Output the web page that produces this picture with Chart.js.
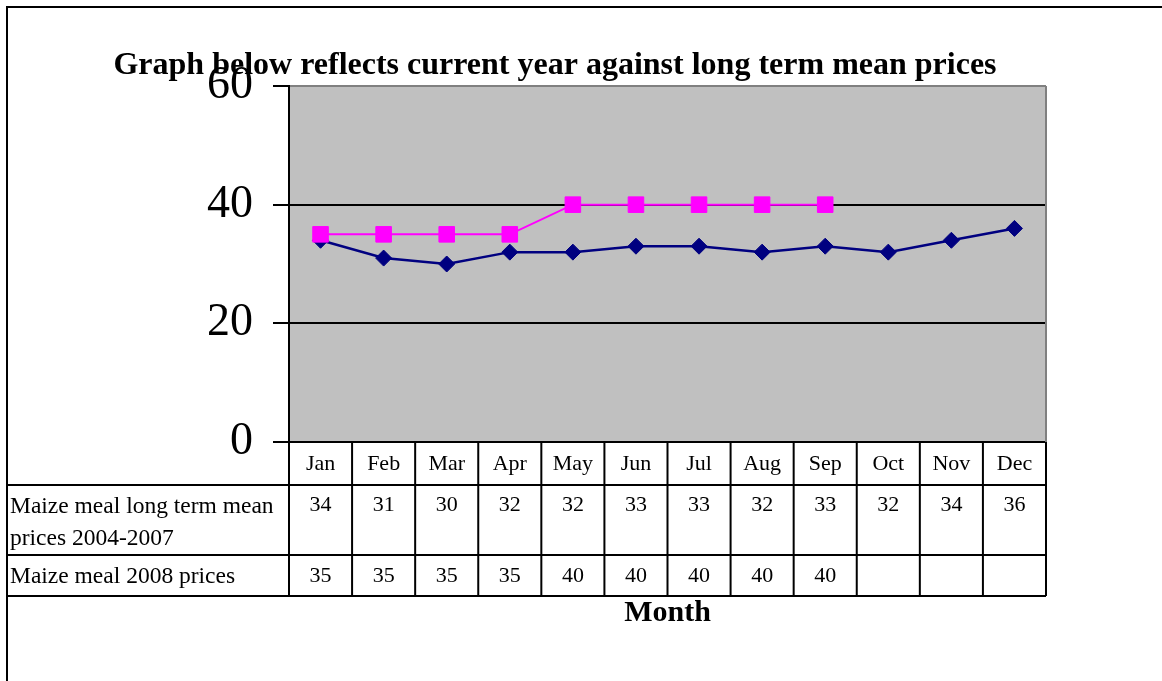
<!DOCTYPE html>
<html>
<head>
<meta charset="utf-8">
<script src="https://cdn.jsdelivr.net/npm/chart.js@4"></script>
<style>
  body { margin: 0; background: #fff; }
  canvas { display: block; }
</style>
</head>
<body>
<canvas id="chart" width="1162" height="681"></canvas>
<script>
// data
const months = ["Jan", "Feb", "Mar", "Apr", "May", "Jun", "Jul", "Aug", "Sep", "Oct", "Nov", "Dec"];
const longTermMean = [34, 31, 30, 32, 32, 33, 33, 32, 33, 32, 34, 36];
const prices2008 = [35, 35, 35, 35, 40, 40, 40, 40, 40, null, null, null];
const seriesNames = [["Maize meal long term mean", "prices 2004-2007"], ["Maize meal 2008 prices"]];
const yTicks = [0, 20, 40, 60];
const chartTitle = "Graph below reflects current year against long term mean prices";
const xTitle = "Month";

const serif = "'Liberation Serif', 'Times New Roman', serif";

/*
    Grey plot background, frame, data table and titles
*/
const excelLook = {
    id: "excelLook",
    beforeDraw(chart) {
        const c = chart.ctx, a = chart.chartArea;
        c.save();
        c.fillStyle = "#fff";
        c.fillRect(0, 0, chart.width, chart.height);
        c.fillStyle = "#C0C0C0";
        c.fillRect(a.left, a.top, a.right - a.left, a.bottom - a.top);
        c.restore();
    },
    afterDraw(chart) {
        const c = chart.ctx, a = chart.chartArea, x = chart.scales.x;
        const half = (x.getPixelForValue(1) - x.getPixelForValue(0)) / 2;
        const headTop = a.bottom, row1 = 485, row2 = 555, row3 = 596, frame = 7;

        c.save();
        // grey right border of the plot
        c.strokeStyle = "#808080";
        c.lineWidth = 2;
        c.beginPath();
        c.moveTo(a.right, a.top);
        c.lineTo(a.right, a.bottom);
        c.stroke();

        // outer frame (top + left only)
        c.strokeStyle = "#000";
        c.beginPath();
        c.moveTo(frame, chart.height);
        c.lineTo(frame, frame);
        c.lineTo(chart.width, frame);
        c.stroke();

        // table lines
        c.beginPath();
        [row1, row2, row3].forEach(y => { c.moveTo(frame, y); c.lineTo(a.right, y); });
        for (let i = 0; i <= months.length; i++) {
            const px = i < months.length ? x.getPixelForValue(i) - half : x.getPixelForValue(i - 1) + half;
            c.moveTo(px, headTop);
            c.lineTo(px, row3);
        }
        c.stroke();

        // table text
        c.fillStyle = "#000";
        c.font = "23.5px " + serif;
        c.textBaseline = "middle";
        c.textAlign = "left";
        c.fillText(seriesNames[0][0], 10, 507);
        c.fillText(seriesNames[0][1], 10, 539);
        c.fillText(seriesNames[1][0], 10, 577);
        c.textAlign = "center";
        c.font = "22px " + serif;
        months.forEach((m, i) => {
            const px = x.getPixelForValue(i);
            if (longTermMean[i] != null) c.fillText(longTermMean[i], px, 505);
            if (prices2008[i] != null) c.fillText(prices2008[i], px, 576);
        });

        // titles
        c.font = "bold 32px " + serif;
        c.textBaseline = "alphabetic";
        c.fillText(chartTitle, 555, 74);
        c.font = "bold 30px " + serif;
        c.fillText(xTitle, (a.left + a.right) / 2, 621);
        c.restore();
    }
};

new Chart(document.getElementById("chart"), {
    type: "line",
    data: {
        labels: months,
        datasets: [
            {
                label: seriesNames[0].join(" "),
                data: longTermMean,
                borderColor: "#000080",
                backgroundColor: "#000080",
                borderWidth: 2.5,
                pointStyle: "rectRot",
                pointRadius: 8,
                pointBorderWidth: 1,
                order: 1
            },
            {
                label: seriesNames[1][0],
                data: prices2008,
                borderColor: "#FF00FF",
                backgroundColor: "#FF00FF",
                borderWidth: 2,
                pointStyle: "rect",
                pointRadius: 11,
                pointBorderWidth: 1,
                order: 0
            }
        ]
    },
    options: {
        responsive: false,
        animation: false,
        layout: { padding: { left: 0, top: 86, right: 116, bottom: 196 } },
        plugins: {
            legend: { display: false },
            title: { display: false },
            tooltip: { enabled: false }
        },
        scales: {
            x: {
                offset: true,
                grid: { display: false, drawTicks: false },
                border: { display: true, color: "#000", width: 2 },
                ticks: { color: "#000", font: { family: serif, size: 22 }, padding: 9 },
                afterFit: axis => { axis.height = 43; }
            },
            y: {
                min: 0,
                max: 60,
                afterBuildTicks: axis => { axis.ticks = yTicks.map(v => ({ value: v })); },
                grid: {
                    color: ctx => ctx.tick && ctx.tick.value === 60 ? "#808080" : "#000",
                    tickColor: "#000",
                    lineWidth: 2,
                    tickLength: 16
                },
                border: { display: true, color: "#000", width: 2 },
                ticks: { color: "#000", font: { family: serif, size: 46 }, padding: 20 },
                afterFit: axis => { axis.width = 289; }
            }
        }
    },
    plugins: [excelLook]
});
</script>
</body>
</html>
